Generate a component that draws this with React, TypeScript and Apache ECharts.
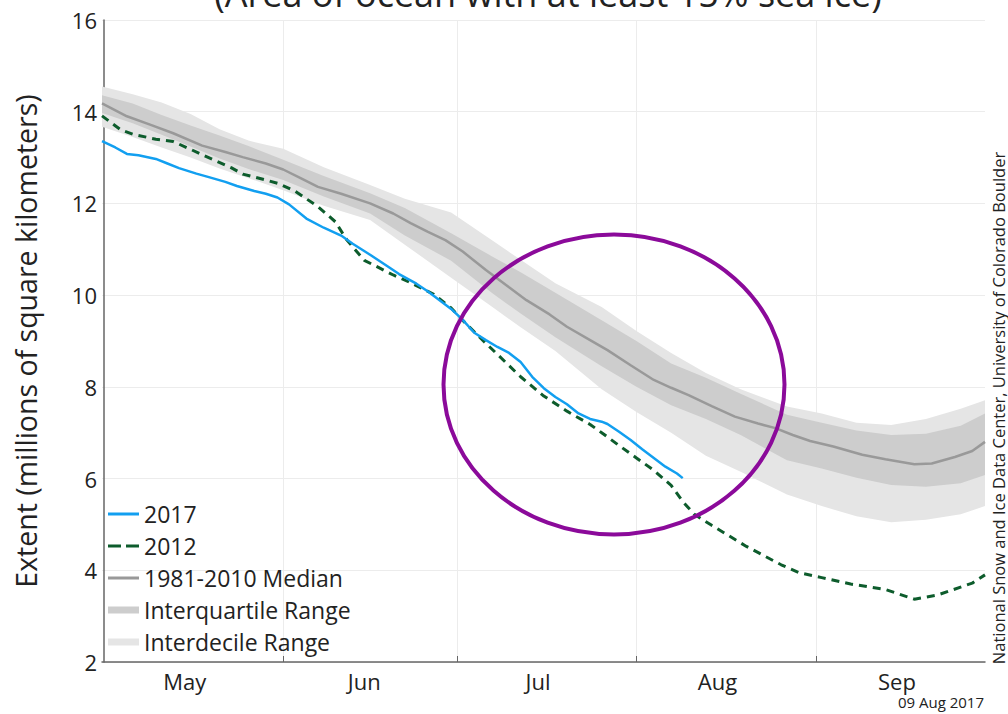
import React, { useEffect, useRef } from "react";
import * as echarts from "echarts";

// x values are days since 1 May
const monthNames = ["May", "Jun", "Jul", "Aug", "Sep"];
const monthBounds = [31, 61, 92, 123];
const monthMids = [14, 45, 75, 106, 137];

const days2017 = [-0.3, 2, 4, 6, 9, 11, 13, 16, 18, 21, 23, 26, 28, 30, 32, 35, 38, 41, 43, 46, 49, 51, 54, 56, 58, 60, 62, 64, 66, 68, 70, 72, 74, 76, 78, 80, 82, 84, 86, 87, 89, 91, 93, 95, 97, 99, 100];
const ext2017 = [13.36, 13.22, 13.08, 13.05, 12.97, 12.87, 12.77, 12.65, 12.58, 12.47, 12.38, 12.27, 12.21, 12.13, 11.98, 11.67, 11.47, 11.3, 11.12, 10.88, 10.63, 10.46, 10.25, 10.08, 9.89, 9.7, 9.46, 9.18, 9.02, 8.87, 8.74, 8.54, 8.22, 7.97, 7.78, 7.62, 7.42, 7.3, 7.24, 7.19, 7.02, 6.84, 6.64, 6.45, 6.26, 6.11, 6.01];

const days2012 = [-0.3, 3, 5, 9, 12, 15, 17, 22, 24, 28, 30, 33, 37, 40, 42, 45, 50, 53, 57, 60, 62, 66, 72, 76, 80, 84, 86, 89, 92, 95, 98, 100, 102, 105, 108, 111, 114, 117, 120, 124, 129, 135, 140, 144, 150, 152.2];
const ext2012 = [13.91, 13.6, 13.51, 13.4, 13.35, 13.18, 13.06, 12.78, 12.64, 12.51, 12.44, 12.27, 11.93, 11.6, 11.2, 10.76, 10.44, 10.27, 10.02, 9.72, 9.45, 8.95, 8.22, 7.8, 7.47, 7.18, 7.0, 6.72, 6.45, 6.18, 5.85, 5.5, 5.22, 4.98, 4.75, 4.52, 4.32, 4.12, 3.95, 3.84, 3.7, 3.58, 3.37, 3.46, 3.72, 3.9];

const medianDays = [-0.3, 4, 8, 12, 17, 21, 24, 28, 31, 34, 37, 41, 46, 50, 53, 56, 59, 62, 66, 70, 73, 77, 80, 84, 87, 91, 95, 98, 101, 105, 109, 113, 116, 119, 122, 126, 131, 135, 140, 143, 147, 150, 152.2];
const medianVals = [14.18, 13.9, 13.72, 13.53, 13.26, 13.12, 13.01, 12.87, 12.74, 12.55, 12.36, 12.21, 12.0, 11.78, 11.57, 11.38, 11.2, 10.95, 10.55, 10.17, 9.89, 9.58, 9.31, 9.02, 8.8, 8.47, 8.15, 7.98, 7.82, 7.58, 7.35, 7.2, 7.1, 6.95, 6.82, 6.7, 6.52, 6.42, 6.31, 6.33, 6.47, 6.6, 6.8];

const bandDays = [-0.3, 5, 10, 15, 20, 25, 31, 38, 46, 52, 60, 67, 72, 78, 86, 92, 98, 104, 110, 118, 124, 130, 136, 142, 148, 152.2];
const decileHigh = [14.55, 14.38, 14.2, 13.95, 13.62, 13.37, 13.19, 12.79, 12.4, 12.1, 11.8, 11.2, 10.77, 10.26, 9.74, 9.22, 8.74, 8.3, 7.95, 7.57, 7.42, 7.22, 7.17, 7.3, 7.52, 7.71];
const quartileHigh = [14.36, 14.18, 13.93, 13.7, 13.48, 13.25, 12.95, 12.6, 12.22, 11.9, 11.35, 10.85, 10.5, 10.05, 9.45, 9.0, 8.51, 8.2, 7.85, 7.39, 7.22, 7.05, 6.95, 6.98, 7.15, 7.42];
const quartileLow = [13.97, 13.75, 13.5, 13.24, 12.98, 12.75, 12.51, 12.15, 11.78, 11.3, 10.75, 10.05, 9.6, 9.08, 8.45, 8.0, 7.6, 7.3, 6.95, 6.4, 6.22, 6.02, 5.86, 5.82, 5.9, 6.08];
const decileLow = [13.67, 13.45, 13.22, 13.0, 12.76, 12.55, 12.29, 11.95, 11.64, 11.1, 10.38, 9.75, 9.3, 8.78, 7.95, 7.45, 7.0, 6.5, 6.15, 5.65, 5.4, 5.18, 5.05, 5.1, 5.22, 5.4];

const FONT = "Open Sans";

const pairs = (xs: number[], ys: number[]) => xs.map((x, i) => [x, ys[i]]);

function bandSeries(name: string, hi: number[], lo: number[], color: string, z: number) {
  return {
    name,
    type: "custom",
    color,
    itemStyle: { color },
    silent: true,
    z,
    data: [[bandDays[0], lo[0]]],
    renderItem: (_params: any, api: any) => {
      const pts: number[][] = [];
      for (let i = 0; i < bandDays.length; i++) pts.push(api.coord([bandDays[i], hi[i]]));
      for (let i = bandDays.length - 1; i >= 0; i--) pts.push(api.coord([bandDays[i], lo[i]]));
      return { type: "polygon", shape: { points: pts }, style: { fill: color, stroke: null } };
    },
  };
}

export default function App() {
  const ref = useRef<HTMLDivElement>(null);
  useEffect(() => {
    if (!ref.current) return;
    const chart = echarts.init(ref.current, null, { renderer: "svg" });
    chart.setOption({
      animation: false,
      textStyle: { fontFamily: FONT },
      grid: { left: 102, right: 23, top: 20, bottom: 52, containLabel: false },
      xAxis: {
        type: "value",
        min: -0.3,
        max: 152.2,
        axisLine: { show: true, onZero: false, lineStyle: { color: "#666", width: 1.5 } },
        axisTick: { show: true, inside: true, length: 6, customValues: monthBounds, lineStyle: { color: "#666" } },
        axisLabel: {
          customValues: monthMids,
          fontSize: 22,
          color: "#222",
          margin: 8,
          fontFamily: FONT,
          formatter: (v: number) => monthNames[monthMids.indexOf(v)] ?? "",
        },
        splitLine: { show: true, customValues: monthBounds, lineStyle: { color: "#ececec", width: 1 } },
      },
      yAxis: {
        type: "value",
        min: 2,
        max: 16,
        interval: 2,
        name: "Extent (millions of square kilometers)",
        nameLocation: "middle",
        nameGap: 62,
        nameTextStyle: { fontSize: 28.5, color: "#222", fontFamily: FONT },
        axisLine: { show: true, lineStyle: { color: "#666", width: 1.5 } },
        axisTick: { show: false },
        axisLabel: { fontSize: 22, color: "#222", margin: 5, fontFamily: FONT },
        splitLine: { show: true, lineStyle: { color: "#ececec", width: 1 } },
      },
      legend: {
        orient: "vertical",
        left: 103,
        top: 497,
        itemWidth: 31,
        itemHeight: 7,
        itemGap: 8,
        selectedMode: false,
        itemStyle: { borderWidth: 0 },
        textStyle: { fontSize: 23, color: "#222", fontFamily: FONT, lineHeight: 24 },
        data: [
          { name: "2017", icon: "path://M0,0h31v3h-31z" },
          { name: "2012", icon: "path://M0,0h13v3h-13z M18,0h13v3h-13z" },
          { name: "1981-2010 Median", icon: "path://M0,0h31v3h-31z" },
          { name: "Interquartile Range", icon: "rect" },
          { name: "Interdecile Range", icon: "rect" },
        ],
      },
      graphic: [
        {
          type: "text",
          x: 548,
          y: 11,
          style: {
            text: "(Area of ocean with at least 15% sea ice)",
            fontSize: 36,
            fontFamily: FONT,
            fill: "#222",
            align: "center",
            verticalAlign: "bottom",
          },
        },
        {
          type: "text",
          x: 998,
          y: 408,
          rotation: Math.PI / 2,
          style: {
            text: "National Snow and Ice Data Center, University of Colorado Boulder",
            fontSize: 16.5,
            fontFamily: FONT,
            fill: "#222",
            align: "center",
            verticalAlign: "middle",
          },
        },
        {
          type: "text",
          x: 984,
          y: 702,
          style: {
            text: "09 Aug 2017",
            fontSize: 15,
            fontFamily: FONT,
            fill: "#222",
            align: "right",
            verticalAlign: "middle",
          },
        },
        {
          type: "ellipse",
          shape: { cx: 614, cy: 384.5, rx: 170.5, ry: 150 },
          style: { fill: "none", stroke: "#8b0a9a", lineWidth: 4 },
          z: 100,
        },
      ],
      series: [
        bandSeries("Interdecile Range", decileHigh, decileLow, "#e5e5e5", 1),
        bandSeries("Interquartile Range", quartileHigh, quartileLow, "#cdcdcd", 2),
        {
          name: "1981-2010 Median",
          type: "line",
          color: "#999999",
          data: pairs(medianDays, medianVals),
          symbol: "none",
          lineStyle: { color: "#999999", width: 2.5 },
          z: 3,
        },
        {
          name: "2012",
          type: "line",
          color: "#0d5c2c",
          data: pairs(days2012, ext2012),
          symbol: "none",
          lineStyle: { color: "#0d5c2c", width: 3, type: [8, 6] },
          z: 4,
        },
        {
          name: "2017",
          type: "line",
          color: "#129ff0",
          data: pairs(days2017, ext2017),
          symbol: "none",
          lineStyle: { color: "#129ff0", width: 2.5 },
          z: 5,
        },
      ],
    });
    return () => chart.dispose();
  }, []);
  return <div ref={ref} style={{ width: 1008, height: 714, position: "absolute", left: 0, top: 0 }} />;
}
